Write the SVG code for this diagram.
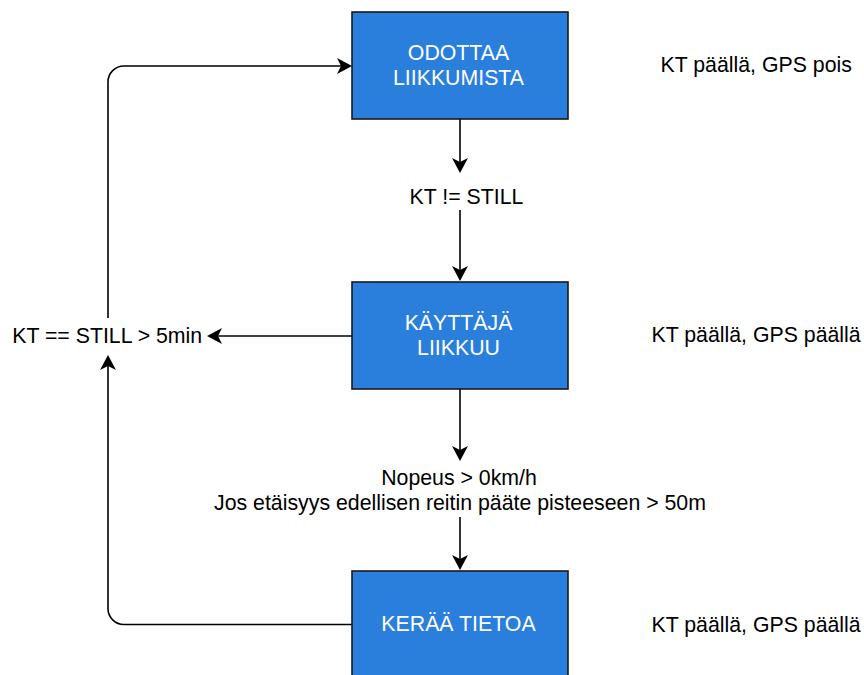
<svg xmlns="http://www.w3.org/2000/svg" width="864" height="675" viewBox="0 0 864 675">
<style>
.box{fill:#2b7fdc;stroke:#1a1a1a;stroke-width:1.6}
.bt{fill:#ffffff;font-family:"Liberation Sans",Arial,sans-serif;font-size:21.3px;text-anchor:middle}
.lt{fill:#000000;font-family:"Liberation Sans",Arial,sans-serif;font-size:21.3px}
.mid{text-anchor:middle}
.edge{fill:none;stroke:#000000;stroke-width:1.6}
</style>
<defs>
<marker id="arr" viewBox="-16 -9 17 18" refX="-11" refY="0" markerWidth="17" markerHeight="18" markerUnits="userSpaceOnUse" orient="auto">
<path d="M0,0 L-15,-8 L-11,0 L-15,8 Z" fill="#000000"/>
</marker>
</defs>
<rect width="864" height="675" fill="#ffffff"/>
<g id="connectors">
<path class="edge" d="M460,119 V162" marker-end="url(#arr)"/>
<path class="edge" d="M460,210 V270" marker-end="url(#arr)"/>
<path class="edge" d="M460,389 V450" marker-end="url(#arr)"/>
<path class="edge" d="M460,517 V559" marker-end="url(#arr)"/>
<path class="edge" d="M352,336 H218" marker-end="url(#arr)"/>
<path class="edge" d="M108,318 V82 A16,16 0 0 1 124,66 H341" marker-end="url(#arr)"/>
<path class="edge" d="M352,624.5 H124 A16,16 0 0 1 108,608.5 V366" marker-end="url(#arr)"/>
</g>
<g id="node-odottaa">
<rect class="box" x="352" y="12" width="216" height="107"/>
<text class="bt" x="458.5" y="60">ODOTTAA</text>
<text class="bt" x="458.5" y="85">LIIKKUMISTA</text>
</g>
<g id="node-kayttaja">
<rect class="box" x="352" y="282" width="216" height="107"/>
<text class="bt" x="458.5" y="330">KÄYTTÄJÄ</text>
<text class="bt" x="458.5" y="355">LIIKKUU</text>
</g>
<g id="node-keraa">
<rect class="box" x="352" y="571" width="216" height="107"/>
<text class="bt" x="458.5" y="631">KERÄÄ TIETOA</text>
</g>
<g id="label-kt-not-still">
<text class="lt mid" x="466.5" y="204">KT != STILL</text>
</g>
<g id="label-nopeus">
<text class="lt mid" x="459" y="485">Nopeus &gt; 0km/h</text>
<text class="lt mid" x="460" y="510">Jos etäisyys edellisen reitin pääte pisteeseen &gt; 50m</text>
</g>
<g id="label-kt-still">
<text class="lt mid" x="107.2" y="342.5">KT == STILL &gt; 5min</text>
</g>
<g id="note-1">
<text class="lt" x="660.5" y="71.7">KT päällä, GPS pois</text>
</g>
<g id="note-2">
<text class="lt" x="651.5" y="341.7">KT päällä, GPS päällä</text>
</g>
<g id="note-3">
<text class="lt" x="651.5" y="631.7">KT päällä, GPS päällä</text>
</g>
</svg>
